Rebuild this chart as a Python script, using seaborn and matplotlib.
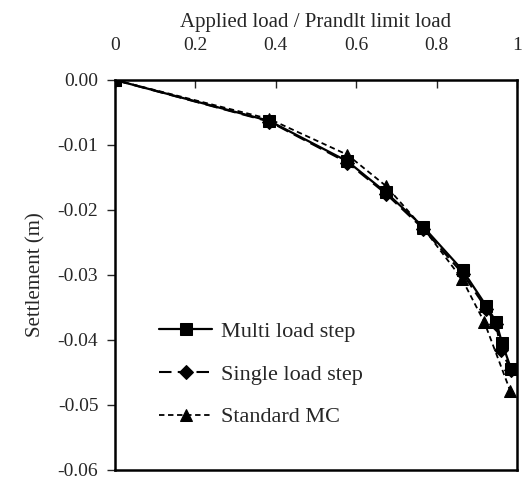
import matplotlib
matplotlib.use("Agg")
import matplotlib.pyplot as plt
import seaborn as sns
import pandas as pd

# load ratio (applied / Prandtl limit) and settlement (m)
multi_x = [0.0, 0.384, 0.578, 0.674, 0.767, 0.865, 0.924, 0.948, 0.963, 0.985]
multi_y = [0.0, -0.0063, -0.0125, -0.0173, -0.0226, -0.0293, -0.0348, -0.0372, -0.0405, -0.0444]

single_x = [0.0, 0.384, 0.578, 0.674, 0.767, 0.865, 0.924, 0.948, 0.960, 0.985]
single_y = [0.0, -0.0064, -0.0127, -0.0175, -0.0229, -0.0298, -0.0352, -0.0376, -0.0415, -0.0446]

mc_x = [0.0, 0.384, 0.578, 0.674, 0.767, 0.863, 0.919, 0.983]
mc_y = [0.0, -0.0060, -0.0115, -0.0163, -0.0228, -0.0306, -0.0373, -0.0478]

x_ticks = [0, 0.2, 0.4, 0.6, 0.8, 1]
x_tick_labels = ["0", "0.2", "0.4", "0.6", "0.8", "1"]
y_ticks = [0.0, -0.01, -0.02, -0.03, -0.04, -0.05, -0.06]
y_tick_labels = ["0.00", "-0.01", "-0.02", "-0.03", "-0.04", "-0.05", "-0.06"]

sns.set_style("white")
plt.rcParams["font.family"] = ["Liberation Serif", "DejaVu Serif"]

fig = plt.figure(figsize=(5.26, 4.94), dpi=100)
ax = fig.add_axes([0.2186, 0.0486, 0.7643, 0.7895])

df_single = pd.DataFrame({"load": single_x, "settlement": single_y})
df_multi = pd.DataFrame({"load": multi_x, "settlement": multi_y})
df_mc = pd.DataFrame({"load": mc_x, "settlement": mc_y})

# draw order: single underneath, then multi, then standard MC on top
sns.lineplot(data=df_single, x="load", y="settlement", ax=ax, color="black",
             marker="D", markersize=7, markeredgecolor="black", linewidth=1.5,
             linestyle=(0, (6, 3)), label="Single load step", sort=False)
sns.lineplot(data=df_multi, x="load", y="settlement", ax=ax, color="black",
             marker="s", markersize=9, markeredgecolor="black", linewidth=1.6,
             label="Multi load step", sort=False)
sns.lineplot(data=df_mc, x="load", y="settlement", ax=ax, color="black",
             marker="^", markersize=9, markeredgecolor="black", linewidth=1.3,
             linestyle=(0, (3, 2)), label="Standard MC", sort=False)

ax.set_xlim(0, 1)
ax.set_ylim(-0.06, 0.0)
ax.xaxis.tick_top()
ax.xaxis.set_label_position("top")
ax.set_xticks(x_ticks)
ax.set_xticklabels(x_tick_labels, fontsize=14)
ax.set_yticks(y_ticks)
ax.set_yticklabels(y_tick_labels, fontsize=14)
ax.tick_params(axis="x", direction="in", length=6, width=1, pad=19)
ax.tick_params(axis="y", direction="out", length=6, width=1, left=True, pad=6)
ax.set_xlabel("Applied load / Prandlt limit load", fontsize=15, labelpad=7)
ax.set_ylabel("Settlement (m)", fontsize=15, labelpad=9)
for s in ax.spines.values():
    s.set_linewidth(1.8)
    s.set_color("black")

handles, labels = ax.get_legend_handles_labels()
order = [labels.index(l) for l in ["Multi load step", "Single load step", "Standard MC"]]
ax.legend([handles[i] for i in order], [labels[i] for i in order],
          loc="lower left", bbox_to_anchor=(0.06, 0.058), frameon=False,
          fontsize=16, handlelength=2.4, labelspacing=1.0, handletextpad=0.4)

fig.savefig("out.png", dpi=100)
